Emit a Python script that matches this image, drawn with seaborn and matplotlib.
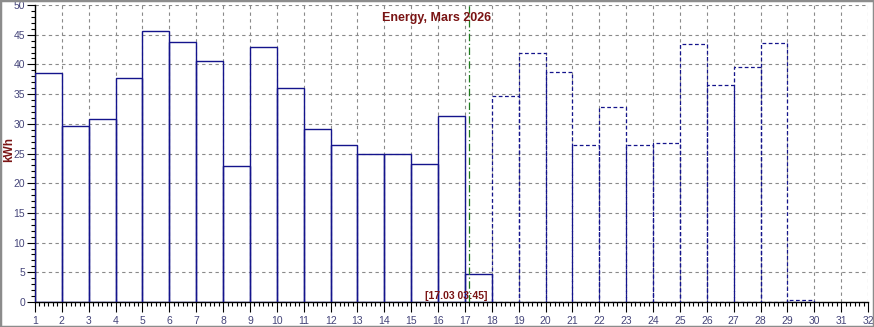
import numpy as np
import pandas as pd
import matplotlib
matplotlib.use("Agg")
import matplotlib.pyplot as plt
from matplotlib.ticker import MultipleLocator
from matplotlib.patches import Rectangle
import seaborn as sns

# ---- data ----
actual_days = [1, 2, 3, 4, 5, 6, 7, 8, 9, 10, 11, 12, 13, 14, 15, 16, 17]
actual_kwh = [38.5, 29.7, 30.8, 37.7, 45.6, 43.7, 40.5, 22.9, 43.0, 36.1,
              29.1, 26.4, 24.9, 25.0, 23.3, 31.3, 4.7]
forecast_days = [18, 19, 20, 21, 22, 23, 24, 25, 26, 27, 28, 29]
forecast_kwh = [34.6, 41.9, 38.7, 26.4, 32.8, 26.4, 26.7, 43.4, 36.6, 39.5, 43.6, 0.3]
x_ticks = list(range(1, 33))
y_ticks = list(range(0, 51, 5))
title = "Energy, Mars 2026"
ylabel = "kWh"
now_label = "[17.03 03:45]"
now_pos = 17 + 3.75 / 24

navy = "#14148c"
darkred = "#7a1414"
tickcol = "#45457a"

sns.set_theme(style="white")
plt.rcParams["font.family"] = ["Liberation Sans", "DejaVu Sans"]

fig = plt.figure(figsize=(8.74, 3.27), dpi=100)
ax = fig.add_axes([35 / 874, 1 - 302 / 327, 833 / 874, 297 / 327])

df_a = pd.DataFrame({"day": actual_days, "kwh": actual_kwh})
df_f = pd.DataFrame({"day": forecast_days, "kwh": forecast_kwh})

sns.histplot(data=df_a, x="day", weights="kwh", binwidth=1,
             binrange=(min(actual_days), max(actual_days) + 1), element="bars",
             fill=False, ax=ax, color=navy, edgecolor=navy, linewidth=1.0,
             zorder=3)
sns.histplot(data=df_f, x="day", weights="kwh", binwidth=1,
             binrange=(min(forecast_days), max(forecast_days) + 1), element="bars",
             fill=False, ax=ax, color=navy, edgecolor=navy, linewidth=0.9,
             linestyle=(0, (3, 2)), zorder=3)

ax.set_xlim(1, 32)
ax.set_ylim(0, 50)
ax.set_xticks(x_ticks)
ax.set_yticks(y_ticks)
ax.xaxis.set_minor_locator(MultipleLocator(1 / 6))
ax.yaxis.set_minor_locator(MultipleLocator(1))
ax.tick_params(axis="x", which="major", direction="out", length=7, width=0.8,
               color="black", labelsize=7.5, labelcolor=tickcol, pad=3,
               bottom=True)
ax.tick_params(axis="x", which="minor", direction="out", length=3, width=0.8,
               color="black", bottom=True)
ax.tick_params(axis="y", which="major", direction="out", length=6, width=0.8,
               color="black", labelsize=7.5, labelcolor=tickcol, pad=1,
               left=True)
ax.tick_params(axis="y", which="minor", direction="out", length=3, width=0.8,
               color="black", left=True)

ax.grid(True, which="major", color="#8a8a8a", linestyle=(0, (3, 3)),
        linewidth=0.8, zorder=0)
ax.set_axisbelow(True)
for s in ["top", "right"]:
    ax.spines[s].set_visible(False)
ax.spines["left"].set_color("black")
ax.spines["bottom"].set_color("black")
ax.spines["left"].set_linewidth(1)
ax.spines["bottom"].set_linewidth(1)

ax.set_xlabel("")
ax.set_ylabel(ylabel, color=darkred, fontsize=8.5, fontweight="bold")
ax.yaxis.set_label_coords(-0.0235, 0.512)

ax.axvline(now_pos, color="#1f7a1f", linestyle=(0, (6, 2, 1, 2)),
           linewidth=0.9, zorder=4)
ax.text(16.67, 1.0, now_label, color=darkred, fontsize=7.5,
        fontweight="bold", ha="center", va="center", zorder=5, clip_on=False)

fig.text(0.4994, 0.945, title, color=darkred, fontsize=9, fontweight="bold",
         ha="center", va="center")

fig.patches.append(Rectangle((0, 0), 1, 1, transform=fig.transFigure,
                             fill=False, edgecolor="#8c8c8c", linewidth=2.5,
                             zorder=10))

fig.savefig("out.png", dpi=100)
